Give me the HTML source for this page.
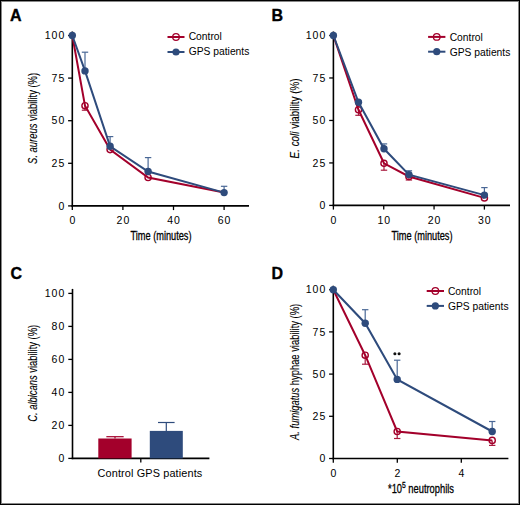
<!DOCTYPE html><html><head><meta charset="utf-8"><style>html,body{margin:0;padding:0;background:#fff}svg{display:block}.ttl{stroke:#000;stroke-width:0.3px}.ttr{stroke:#000;stroke-width:0.12px}</style></head><body>
<svg width="520" height="505" viewBox="0 0 520 505" font-family="'Liberation Sans', sans-serif" fill="#000">
<rect x="0" y="0" width="520" height="505" fill="#fff"/>
<text x="10" y="21.0" font-size="16" font-weight="bold" stroke="#000" stroke-width="0.35">A</text>
<text x="271.5" y="21.4" font-size="16" font-weight="bold" stroke="#000" stroke-width="0.35">B</text>
<text x="10.5" y="279.2" font-size="16" font-weight="bold" stroke="#000" stroke-width="0.35">C</text>
<text x="271.5" y="278.8" font-size="16" font-weight="bold" stroke="#000" stroke-width="0.35">D</text>
<line x1="72.3" y1="31.5" x2="72.3" y2="206.70000000000002" stroke="#000" stroke-width="1.6"/>
<line x1="71.5" y1="205.9" x2="249" y2="205.9" stroke="#000" stroke-width="1.6"/>
<line x1="68.1" y1="205.90" x2="72.3" y2="205.90" stroke="#000" stroke-width="1.3"/>
<text x="65.30" y="209.60" font-size="10.5" text-anchor="end" letter-spacing="1">0</text>
<line x1="68.1" y1="163.30" x2="72.3" y2="163.30" stroke="#000" stroke-width="1.3"/>
<text x="65.30" y="167.00" font-size="10.5" text-anchor="end" letter-spacing="1">25</text>
<line x1="68.1" y1="120.70" x2="72.3" y2="120.70" stroke="#000" stroke-width="1.3"/>
<text x="65.30" y="124.40" font-size="10.5" text-anchor="end" letter-spacing="1">50</text>
<line x1="68.1" y1="78.10" x2="72.3" y2="78.10" stroke="#000" stroke-width="1.3"/>
<text x="65.30" y="81.80" font-size="10.5" text-anchor="end" letter-spacing="1">75</text>
<line x1="68.1" y1="35.50" x2="72.3" y2="35.50" stroke="#000" stroke-width="1.3"/>
<text x="65.30" y="39.20" font-size="10.5" text-anchor="end" letter-spacing="1">100</text>
<line x1="72.30" y1="205.9" x2="72.30" y2="210.1" stroke="#000" stroke-width="1.3"/>
<text x="72.80" y="224.00" font-size="10.5" text-anchor="middle" letter-spacing="1">0</text>
<line x1="122.90" y1="205.9" x2="122.90" y2="210.1" stroke="#000" stroke-width="1.3"/>
<text x="123.40" y="224.00" font-size="10.5" text-anchor="middle" letter-spacing="1">20</text>
<line x1="173.50" y1="205.9" x2="173.50" y2="210.1" stroke="#000" stroke-width="1.3"/>
<text x="174.00" y="224.00" font-size="10.5" text-anchor="middle" letter-spacing="1">40</text>
<line x1="224.10" y1="205.9" x2="224.10" y2="210.1" stroke="#000" stroke-width="1.3"/>
<text x="224.60" y="224.00" font-size="10.5" text-anchor="middle" letter-spacing="1">60</text>
<text class="ttl" x="161.00" y="240.10" font-size="12.5" text-anchor="middle" textLength="61" lengthAdjust="spacingAndGlyphs">Time (minutes)</text>
<text transform="translate(37.4,118.4) rotate(-90)" class="ttr" font-size="12.5" text-anchor="middle" textLength="91" lengthAdjust="spacingAndGlyphs"><tspan font-style="italic">S. aureus</tspan> viability (%)</text>
<line x1="85.00" y1="105.70" x2="85.00" y2="110.20" stroke="#A81A3E" stroke-width="1.2"/>
<line x1="81.80" y1="110.20" x2="88.20" y2="110.20" stroke="#A81A3E" stroke-width="1.2"/>
<polyline points="72.30,35.50 85.00,105.70 110.10,149.60 148.10,177.50 224.10,192.60" fill="none" stroke="#A3002B" stroke-width="2.0" stroke-linejoin="miter"/>
<circle cx="85.00" cy="105.70" r="3.1" fill="none" stroke="#A3002B" stroke-width="1.4"/>
<circle cx="110.10" cy="149.60" r="3.1" fill="none" stroke="#A3002B" stroke-width="1.4"/>
<circle cx="148.10" cy="177.50" r="3.1" fill="none" stroke="#A3002B" stroke-width="1.4"/>
<line x1="85.00" y1="70.90" x2="85.00" y2="52.20" stroke="#4A6896" stroke-width="1.2"/>
<line x1="81.80" y1="52.20" x2="88.20" y2="52.20" stroke="#4A6896" stroke-width="1.2"/>
<line x1="110.10" y1="146.30" x2="110.10" y2="136.60" stroke="#4A6896" stroke-width="1.2"/>
<line x1="106.90" y1="136.60" x2="113.30" y2="136.60" stroke="#4A6896" stroke-width="1.2"/>
<line x1="148.10" y1="171.50" x2="148.10" y2="157.60" stroke="#4A6896" stroke-width="1.2"/>
<line x1="144.90" y1="157.60" x2="151.30" y2="157.60" stroke="#4A6896" stroke-width="1.2"/>
<line x1="224.10" y1="192.60" x2="224.10" y2="186.30" stroke="#4A6896" stroke-width="1.2"/>
<line x1="220.90" y1="186.30" x2="227.30" y2="186.30" stroke="#4A6896" stroke-width="1.2"/>
<polyline points="72.30,35.50 85.00,70.90 110.10,146.30 148.10,171.50 224.10,192.60" fill="none" stroke="#2E4B7C" stroke-width="2.0" stroke-linejoin="miter"/>
<circle cx="72.30" cy="35.50" r="3.7" fill="#2E4B7C"/>
<circle cx="85.00" cy="70.90" r="3.7" fill="#2E4B7C"/>
<circle cx="110.10" cy="146.30" r="3.7" fill="#2E4B7C"/>
<circle cx="148.10" cy="171.50" r="3.7" fill="#2E4B7C"/>
<circle cx="224.10" cy="192.60" r="3.7" fill="#2E4B7C"/>
<line x1="167.5" y1="37" x2="184.5" y2="37" stroke="#A3002B" stroke-width="2"/>
<circle cx="176.00" cy="37.00" r="3.3" fill="none" stroke="#A3002B" stroke-width="1.3"/>
<line x1="167.5" y1="52" x2="184.5" y2="52" stroke="#2E4B7C" stroke-width="2"/>
<circle cx="176.00" cy="52.00" r="3.6" fill="#2E4B7C"/>
<text x="188.70" y="40.20" font-size="10.3" text-anchor="start" >Control</text>
<text x="188.70" y="55.20" font-size="10.3" text-anchor="start" >GPS patients</text>
<line x1="333.4" y1="31.5" x2="333.4" y2="206.20000000000002" stroke="#000" stroke-width="1.6"/>
<line x1="332.59999999999997" y1="205.4" x2="510" y2="205.4" stroke="#000" stroke-width="1.6"/>
<line x1="329.2" y1="205.40" x2="333.4" y2="205.40" stroke="#000" stroke-width="1.3"/>
<text x="326.30" y="209.10" font-size="10.5" text-anchor="end" letter-spacing="1">0</text>
<line x1="329.2" y1="162.93" x2="333.4" y2="162.93" stroke="#000" stroke-width="1.3"/>
<text x="326.30" y="166.62" font-size="10.5" text-anchor="end" letter-spacing="1">25</text>
<line x1="329.2" y1="120.45" x2="333.4" y2="120.45" stroke="#000" stroke-width="1.3"/>
<text x="326.30" y="124.15" font-size="10.5" text-anchor="end" letter-spacing="1">50</text>
<line x1="329.2" y1="77.97" x2="333.4" y2="77.97" stroke="#000" stroke-width="1.3"/>
<text x="326.30" y="81.67" font-size="10.5" text-anchor="end" letter-spacing="1">75</text>
<line x1="329.2" y1="35.50" x2="333.4" y2="35.50" stroke="#000" stroke-width="1.3"/>
<text x="326.30" y="39.20" font-size="10.5" text-anchor="end" letter-spacing="1">100</text>
<line x1="333.40" y1="205.4" x2="333.40" y2="209.6" stroke="#000" stroke-width="1.3"/>
<text x="333.90" y="223.60" font-size="10.5" text-anchor="middle" letter-spacing="1">0</text>
<line x1="383.73" y1="205.4" x2="383.73" y2="209.6" stroke="#000" stroke-width="1.3"/>
<text x="384.23" y="223.60" font-size="10.5" text-anchor="middle" letter-spacing="1">10</text>
<line x1="434.06" y1="205.4" x2="434.06" y2="209.6" stroke="#000" stroke-width="1.3"/>
<text x="434.56" y="223.60" font-size="10.5" text-anchor="middle" letter-spacing="1">20</text>
<line x1="484.39" y1="205.4" x2="484.39" y2="209.6" stroke="#000" stroke-width="1.3"/>
<text x="484.89" y="223.60" font-size="10.5" text-anchor="middle" letter-spacing="1">30</text>
<text class="ttl" x="422.00" y="240.10" font-size="12.5" text-anchor="middle" textLength="61" lengthAdjust="spacingAndGlyphs">Time (minutes)</text>
<text transform="translate(298.6,118.4) rotate(-90)" class="ttr" font-size="12.5" text-anchor="middle" textLength="80" lengthAdjust="spacingAndGlyphs"><tspan font-style="italic">E. coli</tspan> viability (%)</text>
<line x1="358.50" y1="109.80" x2="358.50" y2="115.30" stroke="#A81A3E" stroke-width="1.2"/>
<line x1="355.30" y1="115.30" x2="361.70" y2="115.30" stroke="#A81A3E" stroke-width="1.2"/>
<line x1="384.00" y1="163.30" x2="384.00" y2="170.20" stroke="#A81A3E" stroke-width="1.2"/>
<line x1="380.80" y1="170.20" x2="387.20" y2="170.20" stroke="#A81A3E" stroke-width="1.2"/>
<line x1="408.90" y1="176.50" x2="408.90" y2="180.00" stroke="#A81A3E" stroke-width="1.2"/>
<line x1="405.70" y1="180.00" x2="412.10" y2="180.00" stroke="#A81A3E" stroke-width="1.2"/>
<polyline points="333.40,35.50 358.50,109.80 384.00,163.30 408.90,176.50 484.40,197.90" fill="none" stroke="#A3002B" stroke-width="2.0" stroke-linejoin="miter"/>
<circle cx="358.50" cy="109.80" r="3.1" fill="none" stroke="#A3002B" stroke-width="1.4"/>
<circle cx="384.00" cy="163.30" r="3.1" fill="none" stroke="#A3002B" stroke-width="1.4"/>
<circle cx="408.90" cy="176.50" r="3.1" fill="none" stroke="#A3002B" stroke-width="1.4"/>
<circle cx="484.40" cy="197.90" r="3.1" fill="none" stroke="#A3002B" stroke-width="1.4"/>
<line x1="384.00" y1="148.80" x2="384.00" y2="143.90" stroke="#4A6896" stroke-width="1.2"/>
<line x1="380.80" y1="143.90" x2="387.20" y2="143.90" stroke="#4A6896" stroke-width="1.2"/>
<line x1="408.90" y1="174.60" x2="408.90" y2="170.80" stroke="#4A6896" stroke-width="1.2"/>
<line x1="405.70" y1="170.80" x2="412.10" y2="170.80" stroke="#4A6896" stroke-width="1.2"/>
<line x1="484.40" y1="195.10" x2="484.40" y2="187.60" stroke="#4A6896" stroke-width="1.2"/>
<line x1="481.20" y1="187.60" x2="487.60" y2="187.60" stroke="#4A6896" stroke-width="1.2"/>
<polyline points="333.40,35.50 358.50,102.30 384.00,148.80 408.90,174.60 484.40,195.10" fill="none" stroke="#2E4B7C" stroke-width="2.0" stroke-linejoin="miter"/>
<circle cx="333.40" cy="35.50" r="3.7" fill="#2E4B7C"/>
<circle cx="358.50" cy="102.30" r="3.7" fill="#2E4B7C"/>
<circle cx="384.00" cy="148.80" r="3.7" fill="#2E4B7C"/>
<circle cx="408.90" cy="174.60" r="3.7" fill="#2E4B7C"/>
<circle cx="484.40" cy="195.10" r="3.7" fill="#2E4B7C"/>
<line x1="428.1" y1="36.9" x2="445.4" y2="36.9" stroke="#A3002B" stroke-width="2"/>
<circle cx="436.75" cy="36.90" r="3.3" fill="none" stroke="#A3002B" stroke-width="1.3"/>
<line x1="428.1" y1="51.7" x2="445.4" y2="51.7" stroke="#2E4B7C" stroke-width="2"/>
<circle cx="436.75" cy="51.70" r="3.6" fill="#2E4B7C"/>
<text x="449.70" y="40.70" font-size="10.3" text-anchor="start" >Control</text>
<text x="449.70" y="55.50" font-size="10.3" text-anchor="start" >GPS patients</text>
<line x1="72.5" y1="288.9" x2="72.5" y2="459.2" stroke="#000" stroke-width="1.6"/>
<line x1="71.7" y1="458.4" x2="209.4" y2="458.4" stroke="#000" stroke-width="1.6"/>
<line x1="68.3" y1="458.40" x2="72.5" y2="458.40" stroke="#000" stroke-width="1.3"/>
<text x="65.30" y="462.10" font-size="10.5" text-anchor="end" letter-spacing="1">0</text>
<line x1="68.3" y1="425.40" x2="72.5" y2="425.40" stroke="#000" stroke-width="1.3"/>
<text x="65.30" y="429.10" font-size="10.5" text-anchor="end" letter-spacing="1">20</text>
<line x1="68.3" y1="392.40" x2="72.5" y2="392.40" stroke="#000" stroke-width="1.3"/>
<text x="65.30" y="396.10" font-size="10.5" text-anchor="end" letter-spacing="1">40</text>
<line x1="68.3" y1="359.40" x2="72.5" y2="359.40" stroke="#000" stroke-width="1.3"/>
<text x="65.30" y="363.10" font-size="10.5" text-anchor="end" letter-spacing="1">60</text>
<line x1="68.3" y1="326.40" x2="72.5" y2="326.40" stroke="#000" stroke-width="1.3"/>
<text x="65.30" y="330.10" font-size="10.5" text-anchor="end" letter-spacing="1">80</text>
<line x1="68.3" y1="293.40" x2="72.5" y2="293.40" stroke="#000" stroke-width="1.3"/>
<text x="65.30" y="297.10" font-size="10.5" text-anchor="end" letter-spacing="1">100</text>
<line x1="140.80" y1="458.4" x2="140.80" y2="462.59999999999997" stroke="#000" stroke-width="1.3"/>
<rect x="98.3" y="438.5" width="33.3" height="19.899999999999977" fill="#A3002B"/>
<rect x="149.8" y="430.9" width="33" height="27.5" fill="#2E4B7C"/>
<line x1="115.00" y1="438.50" x2="115.00" y2="436.70" stroke="#A3002B" stroke-width="1.2"/>
<line x1="106.35" y1="436.70" x2="123.65" y2="436.70" stroke="#A3002B" stroke-width="1.2"/>
<line x1="166.30" y1="430.90" x2="166.30" y2="422.50" stroke="#2E4B7C" stroke-width="1.2"/>
<line x1="158.00" y1="422.50" x2="174.60" y2="422.50" stroke="#2E4B7C" stroke-width="1.2"/>
<text x="97.50" y="476.60" font-size="10.9" text-anchor="start" textLength="104.8" lengthAdjust="spacing">Control GPS patients</text>
<text transform="translate(37.4,373.3) rotate(-90)" class="ttr" font-size="12.5" text-anchor="middle" textLength="97" lengthAdjust="spacingAndGlyphs"><tspan font-style="italic">C. albicans</tspan> viability (%)</text>
<line x1="333.3" y1="285.7" x2="333.3" y2="459.3" stroke="#000" stroke-width="1.6"/>
<line x1="332.5" y1="458.5" x2="508.4" y2="458.5" stroke="#000" stroke-width="1.6"/>
<line x1="329.1" y1="458.50" x2="333.3" y2="458.50" stroke="#000" stroke-width="1.3"/>
<text x="326.30" y="462.20" font-size="10.5" text-anchor="end" letter-spacing="1">0</text>
<line x1="329.1" y1="416.30" x2="333.3" y2="416.30" stroke="#000" stroke-width="1.3"/>
<text x="326.30" y="420.00" font-size="10.5" text-anchor="end" letter-spacing="1">25</text>
<line x1="329.1" y1="374.10" x2="333.3" y2="374.10" stroke="#000" stroke-width="1.3"/>
<text x="326.30" y="377.80" font-size="10.5" text-anchor="end" letter-spacing="1">50</text>
<line x1="329.1" y1="331.90" x2="333.3" y2="331.90" stroke="#000" stroke-width="1.3"/>
<text x="326.30" y="335.60" font-size="10.5" text-anchor="end" letter-spacing="1">75</text>
<line x1="329.1" y1="289.70" x2="333.3" y2="289.70" stroke="#000" stroke-width="1.3"/>
<text x="326.30" y="293.40" font-size="10.5" text-anchor="end" letter-spacing="1">100</text>
<line x1="333.30" y1="458.5" x2="333.30" y2="462.7" stroke="#000" stroke-width="1.3"/>
<text x="333.80" y="476.50" font-size="10.5" text-anchor="middle" letter-spacing="1">0</text>
<line x1="397.30" y1="458.5" x2="397.30" y2="462.7" stroke="#000" stroke-width="1.3"/>
<text x="397.80" y="476.50" font-size="10.5" text-anchor="middle" letter-spacing="1">2</text>
<line x1="461.30" y1="458.5" x2="461.30" y2="462.7" stroke="#000" stroke-width="1.3"/>
<text x="461.80" y="476.50" font-size="10.5" text-anchor="middle" letter-spacing="1">4</text>
<text transform="translate(299.3,371.9) rotate(-90)" class="ttr" font-size="12.5" text-anchor="middle" textLength="136" lengthAdjust="spacingAndGlyphs"><tspan font-style="italic">A. fumigatus</tspan> hyphae viability (%)</text>
<text class="ttl" x="421" y="492.8" font-size="12.5" text-anchor="middle" textLength="66" lengthAdjust="spacingAndGlyphs">*10<tspan dy="-5" font-size="9">5</tspan><tspan dy="5"> neutrophils</tspan></text>
<line x1="365.20" y1="355.20" x2="365.20" y2="364.20" stroke="#A81A3E" stroke-width="1.2"/>
<line x1="362.00" y1="364.20" x2="368.40" y2="364.20" stroke="#A81A3E" stroke-width="1.2"/>
<line x1="397.20" y1="431.50" x2="397.20" y2="438.50" stroke="#A81A3E" stroke-width="1.2"/>
<line x1="394.00" y1="438.50" x2="400.40" y2="438.50" stroke="#A81A3E" stroke-width="1.2"/>
<line x1="492.20" y1="440.40" x2="492.20" y2="445.40" stroke="#A81A3E" stroke-width="1.2"/>
<line x1="489.00" y1="445.40" x2="495.40" y2="445.40" stroke="#A81A3E" stroke-width="1.2"/>
<polyline points="333.30,289.70 365.20,355.20 397.20,431.50 492.20,440.40" fill="none" stroke="#A3002B" stroke-width="2.0" stroke-linejoin="miter"/>
<circle cx="365.20" cy="355.20" r="3.1" fill="none" stroke="#A3002B" stroke-width="1.4"/>
<circle cx="397.20" cy="431.50" r="3.1" fill="none" stroke="#A3002B" stroke-width="1.4"/>
<circle cx="492.20" cy="440.40" r="3.1" fill="none" stroke="#A3002B" stroke-width="1.4"/>
<line x1="365.20" y1="323.20" x2="365.20" y2="309.70" stroke="#4A6896" stroke-width="1.2"/>
<line x1="362.00" y1="309.70" x2="368.40" y2="309.70" stroke="#4A6896" stroke-width="1.2"/>
<line x1="397.20" y1="379.40" x2="397.20" y2="360.20" stroke="#4A6896" stroke-width="1.2"/>
<line x1="394.00" y1="360.20" x2="400.40" y2="360.20" stroke="#4A6896" stroke-width="1.2"/>
<line x1="492.20" y1="431.50" x2="492.20" y2="421.50" stroke="#4A6896" stroke-width="1.2"/>
<line x1="489.00" y1="421.50" x2="495.40" y2="421.50" stroke="#4A6896" stroke-width="1.2"/>
<polyline points="333.30,289.70 365.20,323.20 397.20,379.40 492.20,431.50" fill="none" stroke="#2E4B7C" stroke-width="2.0" stroke-linejoin="miter"/>
<circle cx="333.30" cy="289.70" r="3.7" fill="#2E4B7C"/>
<circle cx="365.20" cy="323.20" r="3.7" fill="#2E4B7C"/>
<circle cx="397.20" cy="379.40" r="3.7" fill="#2E4B7C"/>
<circle cx="492.20" cy="431.50" r="3.7" fill="#2E4B7C"/>
<circle cx="394.9" cy="353.8" r="1.55" fill="#111"/><circle cx="399.1" cy="353.8" r="1.55" fill="#111"/>
<line x1="426.7" y1="291" x2="444" y2="291" stroke="#A3002B" stroke-width="2"/>
<circle cx="435.35" cy="291.00" r="3.3" fill="none" stroke="#A3002B" stroke-width="1.3"/>
<line x1="426.7" y1="305.9" x2="444" y2="305.9" stroke="#2E4B7C" stroke-width="2"/>
<circle cx="435.35" cy="305.90" r="3.6" fill="#2E4B7C"/>
<text x="447.90" y="294.70" font-size="10.3" text-anchor="start" >Control</text>
<text x="447.90" y="309.60" font-size="10.3" text-anchor="start" >GPS patients</text>
<rect x="0.5" y="0.5" width="519" height="504" fill="none" stroke="#000" stroke-width="1"/>
<rect x="1.5" y="1.5" width="517" height="502" fill="none" stroke="#888" stroke-width="1"/>
</svg></body></html>
